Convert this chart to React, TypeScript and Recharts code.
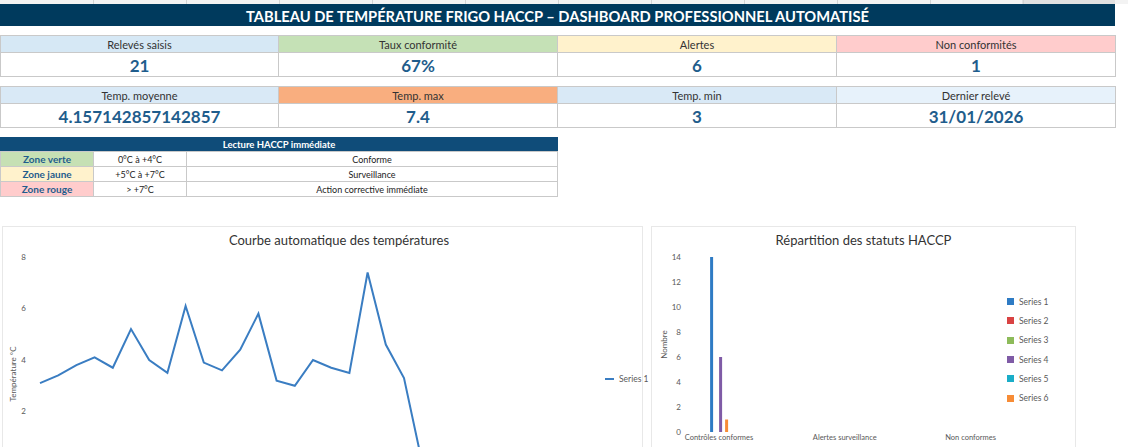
import React from 'react';
import { LineChart, Line, XAxis, YAxis, Legend, BarChart, Bar } from 'recharts';

const titleText = 'TABLEAU DE TEMPÉRATURE FRIGO HACCP – DASHBOARD PROFESSIONNEL AUTOMATISÉ';

const kpiRow1Labels = ['Relevés saisis', 'Taux conformité', 'Alertes', 'Non conformités'];
const kpiRow1Values = ['21', '67%', '6', '1'];
const kpiRow1Colors = ['#D6E8F5', '#C5E1B6', '#FFF2CC', '#FFCCCC'];
const kpiRow2Labels = ['Temp. moyenne', 'Temp. max', 'Temp. min', 'Dernier relevé'];
const kpiRow2Values = ['4.157142857142857', '7.4', '3', '31/01/2026'];
const kpiRow2Colors = ['#D9E9F6', '#F9AE7F', '#D9E9F6', '#E7F2FB'];

const zoneHeader = 'Lecture HACCP immédiate';
const zoneNames = ['Zone verte', 'Zone jaune', 'Zone rouge'];
const zoneRanges = ['0°C à +4°C', '+5°C à +7°C', '> +7°C'];
const zoneActions = ['Conforme', 'Surveillance', 'Action corrective immédiate'];
const zoneColors = ['#C6E0B4', '#FFF2CC', '#FFCCCC'];

const lineTitle = 'Courbe automatique des températures';
const temperatures = [3.1, 3.4, 3.8, 4.1, 3.7, 5.2, 4.0, 3.5, 6.1, 3.9, 3.6, 4.4, 5.8, 3.2, 3.0, 4.0, 3.7, 3.5, 7.4, 4.6, 3.3, 0];
const tempTicks = [2, 4, 6, 8];

const barTitle = 'Répartition des statuts HACCP';
const statusCategories = ['Contrôles conformes', 'Alertes surveillance', 'Non conformes'];
const series1 = [14, null, null];
const series2 = [0, null, null];
const series3 = [0, null, null];
const series4 = [6, null, null];
const series5 = [0, null, null];
const series6 = [1, null, null];
const seriesNames = ['Series 1', 'Series 2', 'Series 3', 'Series 4', 'Series 5', 'Series 6'];
const seriesColors = ['#2E7BC4', '#D94343', '#8DBB5A', '#7F5BA6', '#1AADC8', '#F78C36'];
const countTicks = [0, 2, 4, 6, 8, 10, 12, 14];

const lineData = temperatures.map((t, i) => ({ reading: String(i + 1), temp: t }));
const allSeries = [series1, series2, series3, series4, series5, series6];
const barData = statusCategories.map((c, ci) => {
  const row: Record<string, any> = { status: c };
  allSeries.forEach((s, si) => { row['s' + (si + 1)] = s[ci]; });
  return row;
});

const FONT = 'Lato, "Open Sans", sans-serif';
const VALUE_COLOR = '#1F5D8C';
const BORDER = '#C9C9C9';
const COLS = [0, 278, 557, 836, 1115];
const ZCOLS = [0, 93, 186, 558];

function cell(left: number, top: number, width: number, height: number, style: React.CSSProperties, content: React.ReactNode, key: string) {
  return (
    <div key={key} style={{ position: 'absolute', left, top, width, height, boxSizing: 'border-box', border: `1px solid ${BORDER}`, display: 'flex', alignItems: 'center', justifyContent: 'center', whiteSpace: 'nowrap', overflow: 'hidden', ...style }}>{content}</div>
  );
}

function kpiRow(labels: string[], values: string[], colors: string[], top: number, prefix: string) {
  const out: React.ReactNode[] = [];
  labels.forEach((l, i) => {
    const w = COLS[i + 1] - COLS[i];
    out.push(cell(COLS[i], top, w + 1, 18, { background: colors[i], fontSize: 11, color: '#333' }, l, prefix + 'h' + i));
    out.push(cell(COLS[i], top + 17, w + 1, 25, { background: '#fff', fontSize: 17, fontWeight: 700, color: VALUE_COLOR, paddingTop: 2 }, values[i], prefix + 'v' + i));
  });
  return out;
}

const LineLegend = (props: any) => {
  const p = props.payload || [];
  return (
    <div style={{ fontFamily: FONT }}>
      {p.map((e: any) => (
        <div key={e.value} style={{ display: 'flex', alignItems: 'center', height: 12 }}>
          <div style={{ width: 9, height: 2, background: e.color, marginRight: 5 }} />
          <span style={{ fontSize: 8.5, color: '#595959' }}>{e.value}</span>
        </div>
      ))}
    </div>
  );
};

const BarLegend = (props: any) => {
  const p = props.payload || [];
  return (
    <div style={{ fontFamily: FONT }}>
      {p.map((e: any) => (
        <div key={e.value} style={{ display: 'flex', alignItems: 'center', height: 19.3 }}>
          <div style={{ width: 7, height: 7, background: e.color, marginRight: 5 }} />
          <span style={{ fontSize: 8.5, color: '#595959' }}>{e.value}</span>
        </div>
      ))}
    </div>
  );
};

export default function App() {
  const gridLines = [];
  for (let k = 1; k <= 11; k++) gridLines.push(k * 93);
  return (
    <div style={{ position: 'relative', width: 1128, height: 447, overflow: 'hidden', background: '#fff', fontFamily: FONT }}>
      <style>{`body{margin:0;overflow:hidden;}`}</style>
      {/* spreadsheet header strip */}
      <div style={{ position: 'absolute', left: 0, top: 0, width: 1128, height: 4, background: '#F3F3F3' }} />
      <div style={{ position: 'absolute', left: 1022, top: 0, width: 93, height: 4, background: '#E1E1E1' }} />
      {gridLines.map((x) => (
        <div key={'g' + x} style={{ position: 'absolute', left: x, top: 0, width: 1, height: 4, background: '#D4D4D4' }} />
      ))}
      {/* title bar */}
      <div style={{ position: 'absolute', left: 0, top: 4, width: 1115, height: 22, paddingTop: 1, boxSizing: 'border-box', background: '#003A5D', color: '#fff', fontWeight: 700, fontSize: 14.7, display: 'flex', alignItems: 'center', justifyContent: 'center', whiteSpace: 'nowrap' }}>{titleText}</div>

      {kpiRow(kpiRow1Labels, kpiRow1Values, kpiRow1Colors, 35, 'r1')}
      {kpiRow(kpiRow2Labels, kpiRow2Values, kpiRow2Colors, 86, 'r2')}

      {/* HACCP lecture table */}
      {cell(0, 137, 558, 15, { background: '#0F4C79', color: '#fff', fontWeight: 700, fontSize: 9.5, border: '1px solid #0F4C79' }, zoneHeader, 'zh')}
      {zoneNames.map((z, i) => {
        const top = 151 + i * 15;
        return [
          cell(ZCOLS[0], top, ZCOLS[1] - ZCOLS[0] + 1, 16, { background: zoneColors[i], color: VALUE_COLOR, fontWeight: 700, fontSize: 10 }, z, 'zn' + i),
          cell(ZCOLS[1], top, ZCOLS[2] - ZCOLS[1] + 1, 16, { background: '#fff', color: '#222', fontSize: 9 }, zoneRanges[i], 'zr' + i),
          cell(ZCOLS[2], top, ZCOLS[3] - ZCOLS[2], 16, { background: '#fff', color: '#222', fontSize: 9 }, zoneActions[i], 'za' + i),
        ];
      })}

      {/* chart boxes */}
      <div style={{ position: 'absolute', left: 2, top: 226, width: 641, height: 260, border: '1px solid #E8E8E8', boxSizing: 'border-box' }} />
      <div style={{ position: 'absolute', left: 651, top: 226, width: 425, height: 260, border: '1px solid #E8E8E8', boxSizing: 'border-box' }} />

      {/* line chart */}
      <div style={{ position: 'absolute', left: 0, top: 226, width: 660, height: 260 }}>
        <LineChart width={660} height={260} data={lineData} margin={{ top: 31, right: 10, bottom: 23, left: 0 }}>
          <XAxis dataKey="reading" hide padding={{ left: 9, right: 177.8 }} />
          <YAxis domain={[0, 8]} ticks={tempTicks} width={31} axisLine={false} tickLine={false} tickSize={0} tickMargin={5}
            tick={{ fontSize: 8, fill: '#595959', fontFamily: FONT }}
            label={{ value: 'Température °C', angle: -90, position: 'center', dx: -2.5, dy: 14, fontSize: 8, fill: '#595959', fontFamily: FONT }} />
          <Legend layout="vertical" align="right" verticalAlign="middle" width={50} wrapperStyle={{ left: 605, top: 147 }} content={<LineLegend />} />
          <Line dataKey="temp" name="Series 1" stroke="#3A7DC2" strokeWidth={2} dot={false} isAnimationActive={false} />
        </LineChart>
      </div>
      <div style={{ position: 'absolute', left: 0, top: 232, width: 678, textAlign: 'center', fontSize: 13, color: '#333', whiteSpace: 'nowrap' }}>{lineTitle}</div>

      {/* bar chart */}
      <div style={{ position: 'absolute', left: 652, top: 226, width: 424, height: 221 }}>
        <BarChart width={424} height={221} data={barData} margin={{ top: 31, right: 0, bottom: 0, left: 0 }} barSize={3} barGap={0}>
          <XAxis dataKey="status" axisLine={false} tickLine={false} tickSize={0} tickMargin={3} height={15} interval={0}
            padding={{ left: -32.9, right: -11.5 }} tick={{ fontSize: 7.5, fill: '#595959', fontFamily: FONT }} />
          <YAxis domain={[0, 14]} ticks={countTicks} width={37} axisLine={false} tickLine={false} tickSize={0} tickMargin={8}
            tick={{ fontSize: 8, fill: '#595959', fontFamily: FONT }}
            label={{ value: 'Nombre', angle: -90, position: 'center', dx: -6.5, fontSize: 8, fill: '#595959', fontFamily: FONT }} />
          <Legend layout="vertical" align="right" verticalAlign="middle" width={54} wrapperStyle={{ left: 355, top: 66 }} content={<BarLegend />} />
          {seriesNames.map((n, i) => (
            <Bar key={n} dataKey={'s' + (i + 1)} name={n} fill={seriesColors[i]} isAnimationActive={false} />
          ))}
        </BarChart>
      </div>
      <div style={{ position: 'absolute', left: 652, top: 232, width: 423, textAlign: 'center', fontSize: 13, color: '#333', whiteSpace: 'nowrap' }}>{barTitle}</div>
    </div>
  );
}
